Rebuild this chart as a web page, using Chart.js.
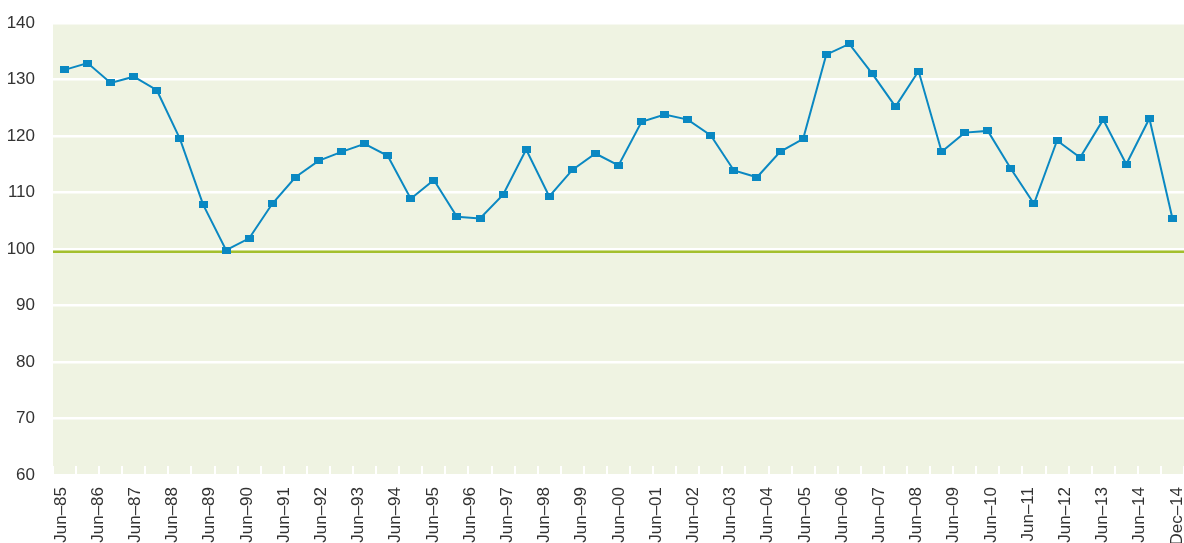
<!DOCTYPE html>
<html>
<head>
<meta charset="utf-8">
<script src="https://cdn.jsdelivr.net/npm/chart.js@4"></script>
<style>
  html, body { margin: 0; padding: 0; background: #fff; }
  #wrap { width: 1184px; height: 543px; }
</style>
</head>
<body>
<div id="wrap"><canvas id="indexChart" width="1184" height="543"></canvas></div>
<script>
// values, one per survey point (49 points)
const values = [
  131.7, 132.9, 129.4, 130.5, 128.1, 119.5, 107.9, 99.8, 101.9, 108.0,
  112.7, 115.6, 117.2, 118.6, 116.5, 108.9, 112.2, 105.7, 105.4, 109.6,
  117.6, 109.3, 114.0, 116.9, 114.8, 122.5, 123.8, 122.9, 120.1, 113.9,
  112.7, 117.2, 119.5, 134.4, 136.3, 131.0, 125.2, 131.5, 117.2, 120.6,
  120.9, 114.2, 108.0, 119.2, 116.2, 122.9, 115.0, 123.1, 105.4
];

// reference line
const baseline = 99.5;

// x tick labels (evenly spread along the axis)
const tickLabels = [
  'Jun–85', 'Jun–86', 'Jun–87', 'Jun–88', 'Jun–89', 'Jun–90', 'Jun–91', 'Jun–92',
  'Jun–93', 'Jun–94', 'Jun–95', 'Jun–96', 'Jun–97', 'Jun–98', 'Jun–99', 'Jun–00',
  'Jun–01', 'Jun–02', 'Jun–03', 'Jun–04', 'Jun–05', 'Jun–06', 'Jun–07', 'Jun–08',
  'Jun–09', 'Jun–10', 'Jun–11', 'Jun–12', 'Jun–13', 'Jun–14', 'Dec–14'
];

const yTicks = [60, 70, 80, 90, 100, 110, 120, 130, 140];

const BLUE = '#0a88c2';
const GREEN = '#a3bf2d';
const TEXT = '#333333';
const FONT = "'Liberation Sans', Arial, sans-serif";

// small rectangular marker
const marker = document.createElement('canvas');
marker.width = 9;
marker.height = 7;
const mctx = marker.getContext('2d');
mctx.fillStyle = BLUE;
mctx.fillRect(0, 0, 9, 7);

// light green plot background
const plotBg = {
  id: 'plotBg',
  beforeDraw(chart) {
    const a = chart.chartArea;
    const c = chart.ctx;
    c.save();
    c.fillStyle = '#eff3e2';
    c.fillRect(a.left, a.top, a.right - a.left, a.bottom - a.top);
    c.restore();
  }
};

// no extra room for overhanging labels, layout padding decides
function noPad(s) {
  s.paddingTop = 0;
  s.paddingBottom = 0;
  s.paddingLeft = 0;
  s.paddingRight = 0;
}

const points = values.map((v, i) => ({ x: i, y: v }));
const lastIdx = values.length - 1;

const ctx = document.getElementById('indexChart').getContext('2d');

new Chart(ctx, {
  type: 'line',
  data: {
    datasets: [
      {
        data: points,
        borderColor: BLUE,
        borderWidth: 2,
        pointStyle: marker,
        pointRadius: 4,
        pointHoverRadius: 4,
        tension: 0
      },
      {
        data: [{ x: -0.5, y: baseline }, { x: lastIdx + 0.5, y: baseline }],
        borderColor: GREEN,
        borderWidth: 2.5,
        pointRadius: 0,
        pointHoverRadius: 0
      }
    ]
  },
  options: {
    responsive: false,
    animation: false,
    layout: {
      autoPadding: false,
      padding: { top: 23, left: 0, right: 0, bottom: 0 }
    },
    plugins: {
      legend: { display: false },
      tooltip: { enabled: false }
    },
    scales: {
      x: {
        type: 'linear',
        position: 'bottom',
        min: -0.5,
        max: lastIdx + 0.5,
        afterBuildTicks: s => {
          s.ticks = values.concat([0]).map((v, i) => ({ value: i - 0.5 }));
        },
        ticks: { display: false },
        grid: {
          drawOnChartArea: false,
          drawTicks: true,
          tickLength: -9,
          color: '#ffffff',
          lineWidth: 2
        },
        border: { display: false },
        afterFit: s => { s.height = 0; noPad(s); }
      },
      xl: {
        type: 'linear',
        position: 'bottom',
        min: -0.215,
        max: 30.19,
        afterBuildTicks: s => {
          s.ticks = tickLabels.map((t, i) => ({ value: i }));
        },
        ticks: {
          autoSkip: false,
          minRotation: 90,
          maxRotation: 90,
          padding: 12,
          color: TEXT,
          font: { family: FONT, size: 17 },
          callback: v => tickLabels[v]
        },
        grid: { display: false, drawTicks: false },
        border: { display: false },
        afterFit: s => { s.height = 68; noPad(s); }
      },
      y: {
        min: 60,
        max: 140,
        afterBuildTicks: s => {
          s.ticks = yTicks.map(v => ({ value: v }));
        },
        ticks: {
          padding: 18,
          color: TEXT,
          font: { family: FONT, size: 17 }
        },
        grid: {
          color: '#ffffff',
          lineWidth: 2.5,
          drawTicks: false
        },
        border: { display: false },
        afterFit: s => { s.width = 53; noPad(s); }
      }
    }
  },
  plugins: [plotBg]
});
</script>
</body>
</html>
